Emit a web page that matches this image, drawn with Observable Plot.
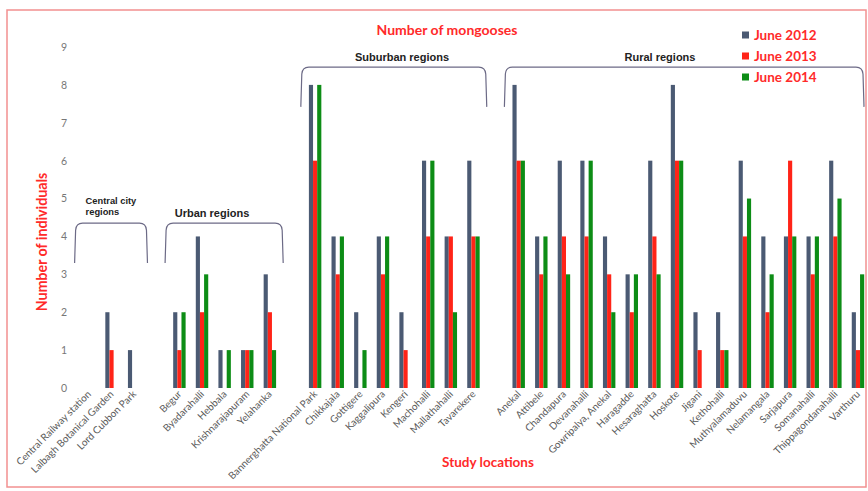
<!DOCTYPE html>
<html><head><meta charset="utf-8">
<script src="https://cdn.jsdelivr.net/npm/d3@7"></script>
<script src="https://cdn.jsdelivr.net/npm/@observablehq/plot@0.6"></script>
<style>html,body{margin:0;padding:0;background:#fff;}</style>
</head><body><div id="chart"></div>
<script>
const locations = ["Central Railway station","Lalbagh Botanical Garden","Lord Cubbon Park",
  "Begur","Byadarahalli","Hebbala","Krishnarajapuram","Yelahanka",
  "Bannerghatta National Park","Chikkajala","Gottigere","Kaggalipura","Kengeri","Machohalli","Mallathahalli","Tavarekere",
  "Anekal","Attibele","Chandapura","Devanahalli","Gowripalya, Anekal","Haragadde","Hesaraghatta","Hoskote","Jigani","Kethohalli","Muthyalamaduvu","Nelamangala","Sarjapura","Somanahalli","Thippagondanahalli","Varthuru"];
const regionOf = [0,0,0, 1,1,1,1,1, 2,2,2,2,2,2,2,2, 3,3,3,3,3,3,3,3,3,3,3,3,3,3,3,3];
const regionNames = [["Central city","regions"],["Urban regions"],["Suburban regions"],["Rural regions"]];
const years = ["June 2012","June 2013","June 2014"];
const june2012 = [0,2,1, 2,4,1,1,3, 8,4,2,4,2,6,4,6, 8,4,6,6,4,3,6,8,2,2,6,4,4,4,6,2];
const june2013 = [0,1,0, 1,2,0,1,2, 6,3,0,3,1,4,4,4, 6,3,4,4,3,2,4,6,1,1,4,2,6,3,4,1];
const june2014 = [0,0,0, 2,3,1,1,1, 8,4,1,4,0,6,2,4, 6,4,3,6,2,3,3,6,0,1,5,3,4,4,5,3];
const yTicks = [0,1,2,3,4,5,6,7,8,9];
const colors = ["#4b5a73","#ff2418","#0d8d16"];
const red = "#ff2a2a";

const series = [june2012, june2013, june2014];
const data = [];
locations.forEach((loc, i) => years.forEach((yr, j) => data.push({location: loc, year: yr, value: series[j][i]})));

// facet domain with one empty slot between regions
const fxDomain = [];
const gaps = [];
regionNames.forEach((r, k) => {
  if (k > 0) { fxDomain.push("gap" + k); gaps.push({location: "gap" + k, year: years[0], value: 0}); }
  locations.forEach((loc, i) => { if (regionOf[i] === k) fxDomain.push(loc); });
});

const plot = Plot.plot({
  width: 868, height: 491,
  marginLeft: 82.7, marginRight: 3.8, marginTop: 47, marginBottom: 103,
  style: {fontFamily: "Lato, sans-serif", background: "#fff"},
  fx: {domain: fxDomain, paddingInner: 0.45, paddingOuter: 0, round: false, axis: null, label: null},
  x: {domain: years, padding: 0, round: false, axis: null},
  y: {domain: [0, 9], axis: null, label: null},
  color: {domain: years, range: colors},
  marks: [
    Plot.barY(gaps, {fx: "location", x: "year", y: "value", fill: "none"}),
    Plot.barY(data, {fx: "location", x: "year", y: "value", fill: "year"}),
    Plot.axisY({ticks: yTicks, tickSize: 0, tickPadding: 16, fontSize: 10.5, fill: "#777", label: null, tickFormat: d => d}),
    Plot.axisFx({anchor: "bottom", tickRotate: -45, tickSize: 0, tickPadding: 4, fontSize: 10, fill: "#5a5a5a", label: null,
      tickFormat: d => d.startsWith("gap") ? "" : d})
  ]
});
document.getElementById("chart").appendChild(plot);

const svg = d3.select(plot);
const fx = plot.scale("fx");
const ys = plot.scale("y");
const bw = fx.bandwidth, step = fx.step;

// border
svg.append("rect").attr("x", 7).attr("y", 10).attr("width", 859).attr("height", 477)
  .attr("fill", "none").attr("stroke", "#f29090").attr("stroke-width", 1.5);

const txt = () => svg.append("text").attr("font-family", "Lato, sans-serif").attr("font-weight", "bold");
// title
txt().attr("x", 447).attr("y", 35).attr("text-anchor", "middle").attr("font-size", 14).attr("fill", red)
  .text("Number of mongooses");
// y label
txt().attr("transform", "translate(47,242) rotate(-90)").attr("text-anchor", "middle").attr("font-size", 14.2).attr("fill", red)
  .text("Number of individuals");
// x label
txt().attr("x", 488).attr("y", 467).attr("text-anchor", "middle").attr("font-size", 13.5).attr("fill", red)
  .text("Study locations");

// legend
years.forEach((yr, j) => {
  const yy = 35 + j * 21;
  svg.append("rect").attr("x", 742).attr("y", yy - 3.5).attr("width", 7).attr("height", 7).attr("fill", colors[j]);
  txt().attr("x", 754).attr("y", yy).attr("dy", "0.35em").attr("text-anchor", "start")
    .attr("font-size", 13.5).attr("fill", red).text(yr);
});

// region brackets
const bracketLevel = [4.35, 4.35, 8.47, 8.47];
const labelCenter = [null, 212, 402, 660];
regionNames.forEach((name, k) => {
  const locs = locations.filter((l, i) => regionOf[i] === k);
  const x0 = fx.apply(locs[0]) - (step - bw) / 2 - 3;
  const x1 = Math.min(fx.apply(locs[locs.length - 1]) + bw + (step - bw) / 2 + 2, 864);
  const yt = ys.apply(bracketLevel[k]);
  const yb = ys.apply(bracketLevel[k] - 1.05);
  const d = `M${x0},${yb} L${x0 + 1},${yt + 7} Q${x0 + 1.5},${yt} ${x0 + 8},${yt} H${x1 - 8} Q${x1 - 1.5},${yt} ${x1 - 1},${yt + 7} L${x1},${yb}`;
  svg.append("path").attr("d", d).attr("fill", "none").attr("stroke", "#6c6a86").attr("stroke-width", 1.2);
  const t = svg.append("text").attr("font-family", "'Liberation Sans', Arial, sans-serif").attr("font-weight", "bold")
    .attr("fill", "#222");
  if (name.length === 2) {
    t.attr("text-anchor", "start").attr("font-size", 9.3);
    t.append("tspan").attr("x", x0 + 11).attr("y", yt - 19).text(name[0]);
    t.append("tspan").attr("x", x0 + 11).attr("y", yt - 8).text(name[1]);
  } else {
    t.attr("x", labelCenter[k]).attr("y", yt - 6).attr("text-anchor", "middle").attr("font-size", 11).text(name[0]);
  }
});
</script>
</body></html>
